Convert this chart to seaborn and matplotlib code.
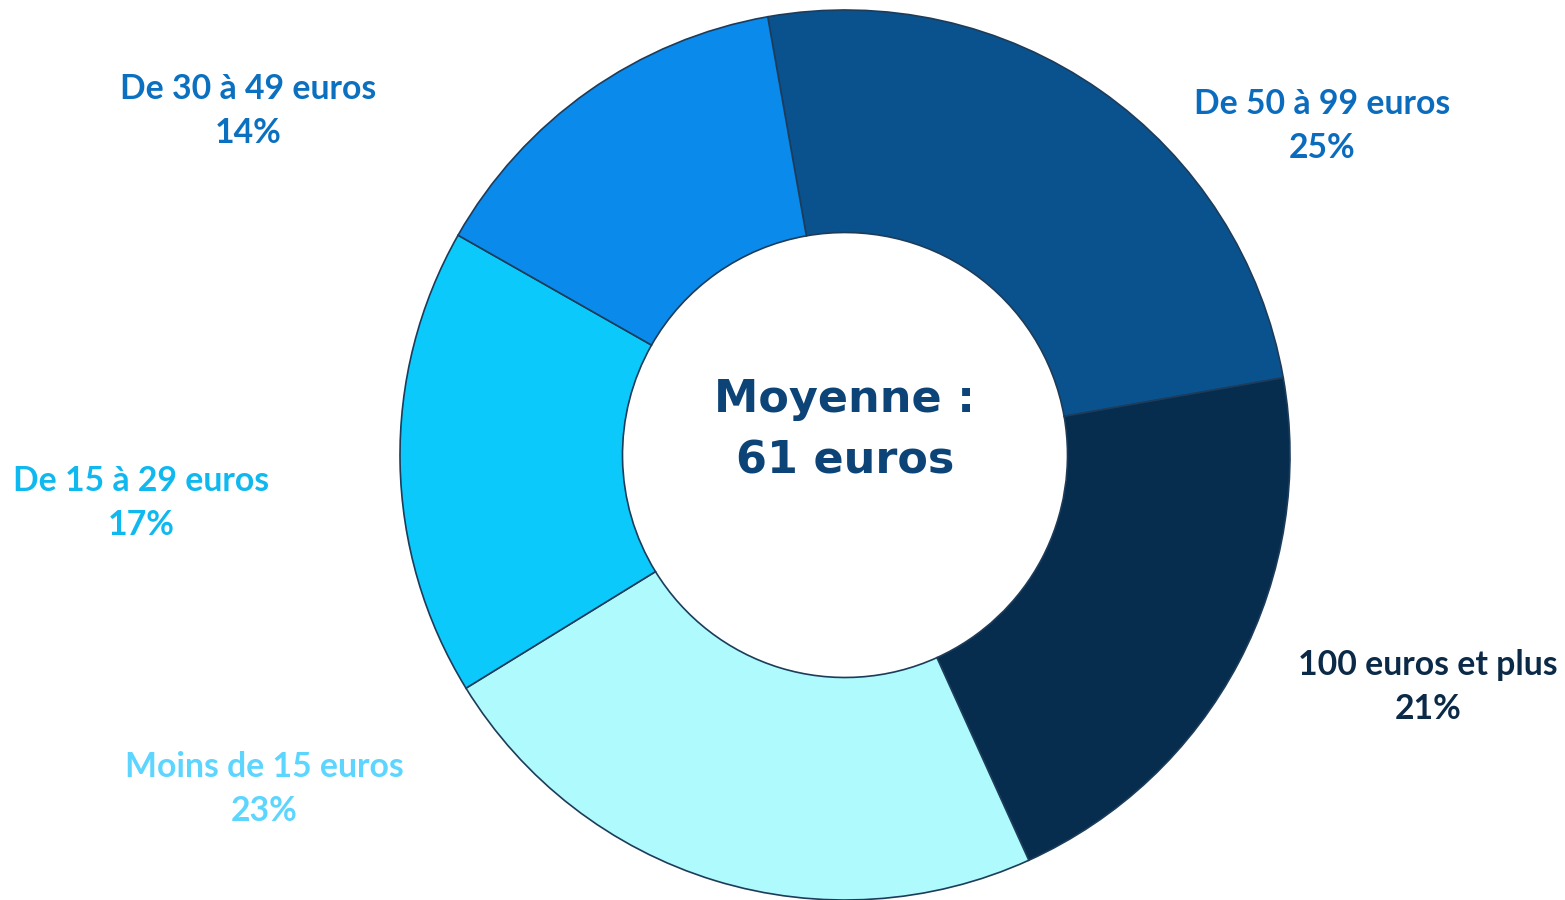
import matplotlib
matplotlib.use("Agg")
import matplotlib.pyplot as plt
import seaborn as sns

sns.set_theme(style="white")
plt.rcParams['font.family'] = ['Lato', 'DejaVu Sans']

# Data
categories = ["De 50 à 99 euros", "100 euros et plus", "Moins de 15 euros",
              "De 15 à 29 euros", "De 30 à 49 euros"]
shares = [25, 21, 23, 17, 14]
slice_colors = ["#0A528E", "#062C4E", "#AEFAFC", "#0BC9FB", "#0A8AEB"]
label_colors = ["#0B6CBE", "#0A2A48", "#5CD5FF", "#10B8F0", "#0B70C0"]
center_lines = ["Moyenne :", "61 euros"]

W, H = 1565, 900
fig = plt.figure(figsize=(W / 100, H / 100), dpi=100)
ax = fig.add_axes([0, 0, 1, 1])

cx, cy, R = 845, 455, 445  # pixel geometry of the donut

wedges, _ = ax.pie(shares, colors=slice_colors, startangle=100, counterclock=False,
                   radius=1.0, wedgeprops=dict(width=0.5, edgecolor="#1d3c5a", linewidth=1.2))

ax.set_xlim((0 - cx) / R, (W - cx) / R)
ax.set_ylim((cy - H) / R, cy / R)
ax.set_aspect("equal")
ax.axis("off")

# label anchors in pixel positions (center of the two-line block)
label_px = [(1322, 126), (1428, 687), (264, 789), (141, 503), (248, 111)]
for cat, sh, col, (px, py) in zip(categories, shares, label_colors, label_px):
    ax.text((px - cx) / R, (cy - py) / R, f"{cat}\n{sh}%", ha="center", va="center",
            fontsize=24.3, fontweight="bold", color=col, linespacing=1.45)

ax.text(0, (cy - 430) / R, "\n".join(center_lines), ha="center", va="center",
        fontsize=32, fontweight="bold", color="#0C4478", family="DejaVu Sans",
        linespacing=1.55)

fig.savefig("out.png", dpi=100)
